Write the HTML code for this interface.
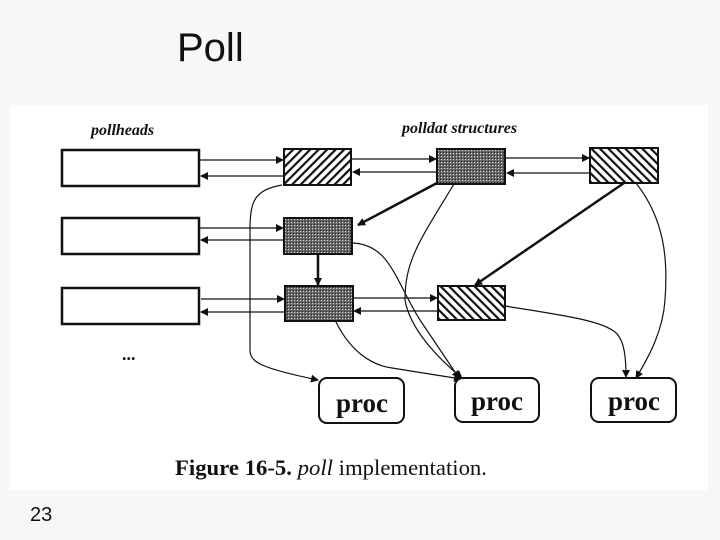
<!DOCTYPE html>
<html><head><style>
body{margin:0;width:720px;height:540px;background:#f8f7f5;position:relative;overflow:hidden;font-family:"Liberation Sans",sans-serif}
.t{position:absolute;left:177px;top:26px;font-size:40px;color:#111}
.n{position:absolute;left:30px;top:504px;font-size:20px;color:#111}
svg{position:absolute;left:0;top:0}
</style></head><body>
<div class="t">Poll</div>
<div class="n">23</div>
<svg width="720" height="540" viewBox="0 0 720 540">
<defs>
<pattern id="fw" width="6" height="6" patternUnits="userSpaceOnUse" patternTransform="rotate(45)"><rect width="6" height="6" fill="#fff"/><rect width="2.2" height="6" fill="#111"/></pattern>
<pattern id="bw" width="6" height="6" patternUnits="userSpaceOnUse" patternTransform="rotate(-45)"><rect width="6" height="6" fill="#fff"/><rect width="2.2" height="6" fill="#111"/></pattern>
<pattern id="dk" width="3" height="3" patternUnits="userSpaceOnUse"><rect width="3" height="3" fill="#666"/><rect width="1" height="1" fill="#ddd"/><rect x="2" y="2" width="1" height="1" fill="#222"/></pattern>
<marker id="a" markerWidth="8" markerHeight="8" refX="7" refY="4" orient="auto" markerUnits="userSpaceOnUse"><path d="M0,0 L8,4 L0,8 Z" fill="#111"/></marker>
</defs>
<rect x="10" y="105" width="698" height="385" fill="#fff"/>
<g font-family="Liberation Serif,serif" font-style="italic" font-weight="bold" font-size="16" fill="#111">
<text x="91" y="135">pollheads</text>
<text x="402" y="133">polldat structures</text>
</g>
<g fill="#fff" stroke="#111" stroke-width="2.5">
<rect x="62" y="150" width="137" height="36"/>
<rect x="62" y="218" width="137" height="36"/>
<rect x="62" y="288" width="137" height="36"/>
</g>
<g stroke="#111" stroke-width="2">
<rect x="284" y="149" width="67" height="36" fill="url(#fw)"/>
<rect x="437" y="149" width="68" height="35" fill="url(#dk)"/>
<rect x="590" y="148" width="68" height="35" fill="url(#bw)"/>
<rect x="284" y="218" width="68" height="36" fill="url(#dk)"/>
<rect x="285" y="286" width="68" height="35" fill="url(#dk)"/>
<rect x="438" y="286" width="67" height="34" fill="url(#bw)"/>
</g>
<g stroke="#111" stroke-width="1.2" fill="none" marker-end="url(#a)">
<path d="M200,160 H283"/><path d="M284,176 H201"/>
<path d="M352,159 H436"/><path d="M437,172 H353"/>
<path d="M506,158 H589"/><path d="M590,173 H507"/>
<path d="M200,228 H283"/><path d="M284,240 H201"/>
<path d="M201,299 H284"/><path d="M285,312 H201"/>
<path d="M354,298 H437"/><path d="M438,311 H354"/>
<path d="M282,185 C255,190 250,200 250,230 V350 C250,362 260,368 318,380"/>
<path d="M353,243 C390,245 395,280 420,320 L459,378"/>
<path d="M454,184 C420,240 405,260 405,300 C410,330 440,360 462,378"/>
<path d="M336,322 C350,350 370,365 392,368 L461,379"/>
<path d="M505,306 C560,315 600,320 615,332 C625,340 626,360 626,377"/>
<path d="M636,183 C665,220 668,260 665,300 C663,330 650,355 636,378"/>
</g>
<g stroke="#111" stroke-width="2.5" fill="none" marker-end="url(#a)">
<path d="M437,183 L358,225"/>
<path d="M318,254 V285"/>
<path d="M624,183 L475,285"/>
</g>
<g fill="#fff" stroke="#111" stroke-width="2">
<rect x="319" y="378" width="85" height="45" rx="8"/>
<rect x="455" y="378" width="84" height="44" rx="8"/>
<rect x="591" y="378" width="85" height="44" rx="8"/>
</g>
<g font-family="Liberation Serif,serif" font-weight="bold" font-size="27" fill="#111" text-anchor="middle">
<text x="362" y="412">proc</text>
<text x="497" y="410">proc</text>
<text x="634" y="410">proc</text>
</g>
<text x="122" y="360" font-family="Liberation Serif,serif" font-weight="bold" font-size="18" fill="#111">...</text>
<text x="175" y="475" font-family="Liberation Serif,serif" font-size="22" fill="#111" textLength="312" lengthAdjust="spacingAndGlyphs"><tspan font-weight="bold">Figure 16-5.</tspan> <tspan font-style="italic">poll</tspan> implementation.</text>
</svg>
</body></html>
